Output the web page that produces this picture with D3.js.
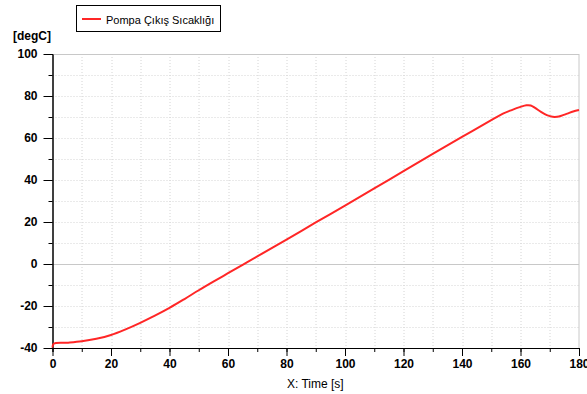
<!DOCTYPE html>
<html>
<head>
<meta charset="utf-8">
<script src="https://cdn.jsdelivr.net/npm/d3@7"></script>
<style>
  body { margin: 0; background: #fff; }
  svg { display: block; }
  .tick text { font-family: "Liberation Sans", Arial, sans-serif; font-weight: bold; font-size: 12px; fill: #000; }
</style>
</head>
<body>
<div id="chart"></div>
<script>
// valores
const timeValues = [0, 0.4, 5, 10, 15, 20, 25, 30, 35, 40, 45, 50, 55, 60, 65, 70, 80, 90, 100, 110, 120, 130, 140, 150, 154, 157, 160, 162, 163.5, 165, 167, 169, 171, 172.5, 174, 176, 178, 180];
const tempValues = [-39.8, -38, -37.5, -36.8, -35.6, -33.8, -31.1, -28, -24.6, -20.9, -16.8, -12.5, -8.4, -4.4, -0.4, 3.6, 11.6, 19.8, 27.8, 36, 44.2, 52.4, 60.5, 68.5, 71.6, 73.3, 74.8, 75.6, 75.5, 74.3, 72.4, 70.9, 70.1, 70.1, 70.6, 71.6, 72.6, 73.3];
const xTicks = [0, 20, 40, 60, 80, 100, 120, 140, 160, 180];
const yTicks = [-40, -20, 0, 20, 40, 60, 80, 100];
const seriesName = "Pompa Çıkış Sıcaklığı";

const W = 587, H = 394;
const margin = { top: 54, right: 8, bottom: 46, left: 52.5 },
      width = W - margin.left - margin.right,
      height = H - margin.top - margin.bottom;

const svg = d3.select("#chart").append("svg")
    .attr("width", W)
    .attr("height", H);

const g = svg.append("g")
    .attr("transform", `translate(${margin.left},${margin.top})`);

const x = d3.scaleLinear().domain([0, 180]).range([0, width]);
const y = d3.scaleLinear().domain([-40, 100]).range([height, 0]);

// rejilla punteada cada 10
const minorX = d3.range(10, 180, 10), minorY = d3.range(-30, 100, 10).filter(v => v !== 0);
g.selectAll(".gx").data(minorX).enter().append("line")
    .attr("x1", d => Math.round(x(d)) + 0.5).attr("x2", d => Math.round(x(d)) + 0.5)
    .attr("y1", 0).attr("y2", height)
    .attr("stroke", "#d4d4d4").attr("stroke-dasharray", "1,2");
g.selectAll(".gy").data(minorY).enter().append("line")
    .attr("y1", d => Math.round(y(d)) + 0.5).attr("y2", d => Math.round(y(d)) + 0.5)
    .attr("x1", 0).attr("x2", width)
    .attr("stroke", "#d4d4d4").attr("stroke-dasharray", "1,2");

// línea del cero y marco
g.append("line").attr("x1", 0).attr("x2", width)
    .attr("y1", Math.round(y(0)) + 0.5).attr("y2", Math.round(y(0)) + 0.5)
    .attr("stroke", "#c8c8c8");
g.append("line").attr("x1", 0).attr("x2", width).attr("y1", 0.5).attr("y2", 0.5).attr("stroke", "#c8c8c8");
g.append("line").attr("x1", width).attr("x2", width).attr("y1", 0).attr("y2", height).attr("stroke", "#c8c8c8");

// ejes
const xMinor = g.append("g").attr("transform", `translate(0,${height})`)
    .call(d3.axisBottom(x).tickValues(d3.range(0, 181, 10)).tickSize(4).tickFormat(""));
const yMinor = g.append("g")
    .call(d3.axisLeft(y).tickValues(d3.range(-40, 101, 10)).tickSize(4).tickFormat(""));
const xAxis = g.append("g").attr("transform", `translate(0,${height})`)
    .call(d3.axisBottom(x).tickValues(xTicks).tickSize(8).tickSizeOuter(0).tickPadding(3)
      .tickFormat(d => String(d)));
const yAxis = g.append("g")
    .call(d3.axisLeft(y).tickValues(yTicks).tickSize(9).tickSizeOuter(0).tickPadding(6)
      .tickFormat(d => String(d)));
[xMinor, yMinor, xAxis, yAxis].forEach(a => {
  a.select(".domain").attr("stroke", "#000");
  a.selectAll(".tick line").attr("stroke", "#000");
});

// curva
const pts = timeValues.map((t, i) => [t, tempValues[i]]);
const line = d3.line().x(d => x(d[0])).y(d => y(d[1])).curve(d3.curveCatmullRom.alpha(0.5));
g.append("path").datum(pts)
    .attr("d", line)
    .attr("fill", "none")
    .attr("stroke", "#ff2626")
    .attr("stroke-width", 2);

// títulos de ejes
svg.append("text").attr("x", 13).attr("y", 40)
    .style("font-family", "Liberation Sans, Arial, sans-serif").style("font-weight", "bold").style("font-size", "12px")
    .text("[degC]");
svg.append("text").attr("x", 287).attr("y", 388)
    .style("font-family", "Liberation Sans, Arial, sans-serif").style("font-size", "12px")
    .text("X: Time [s]");

// leyenda
const legend = svg.append("g");
legend.append("rect").attr("x", 76.5).attr("y", 5.5).attr("width", 144).attr("height", 26)
    .attr("fill", "#fff").attr("stroke", "#000");
legend.append("line").attr("x1", 82).attr("x2", 101).attr("y1", 19).attr("y2", 19)
    .attr("stroke", "#ff2626").attr("stroke-width", 2);
legend.append("text").attr("x", 106).attr("y", 23.5)
    .style("font-family", "Liberation Sans, Arial, sans-serif").style("font-size", "11px")
    .text(seriesName);
</script>
</body>
</html>
